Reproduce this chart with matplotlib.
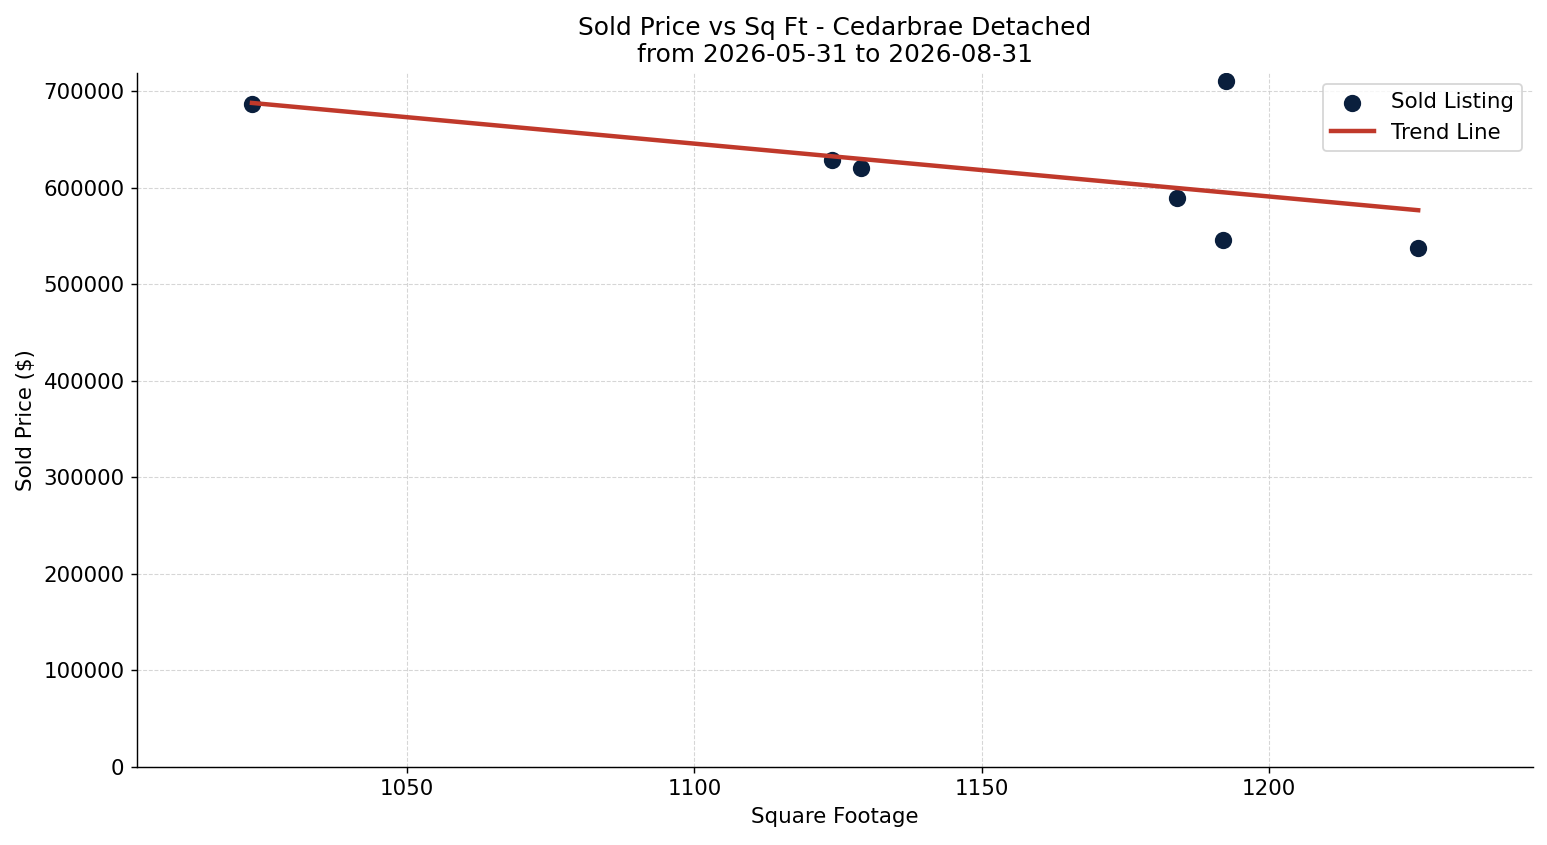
import numpy as np
import matplotlib.pyplot as plt

# sold listings
sqft = [1023, 1124, 1129, 1184, 1192, 1192.5, 1226]
price = [686500, 628400, 620100, 589000, 545500, 710400, 538200]

title = "Sold Price vs Sq Ft - Cedarbrae Detached\nfrom 2026-05-31 to 2026-08-31"

DPI = 128
fig, ax = plt.subplots(figsize=(1547 / DPI, 845 / DPI), dpi=DPI)

ax.scatter(sqft, price, s=76, color='#0a1f3d', label='Sold Listing', zorder=3)

# simple linear fit
m, b = np.polyfit(sqft, price, 1)
xs = np.array([min(sqft), max(sqft)])
ax.plot(xs, m * xs + b, color='#c0392b', linewidth=2.5, label='Trend Line', zorder=4)

ax.set_xlim(min(sqft) - 20, max(sqft) + 20)
ax.set_ylim(bottom=0)

ax.set_title(title, fontsize=14)
ax.set_xlabel("Square Footage", fontsize=12)
ax.set_ylabel("Sold Price ($)", fontsize=12)
ax.tick_params(labelsize=12)
ax.grid(True, linestyle='--', linewidth=0.6, color='#cccccc', alpha=0.8)
ax.spines['top'].set_visible(False)
ax.spines['right'].set_visible(False)
ax.legend(loc='upper right', fontsize=12)

fig.subplots_adjust(left=0.0886, right=0.991, top=0.9136, bottom=0.0923)
fig.savefig("out.png", dpi=DPI)
